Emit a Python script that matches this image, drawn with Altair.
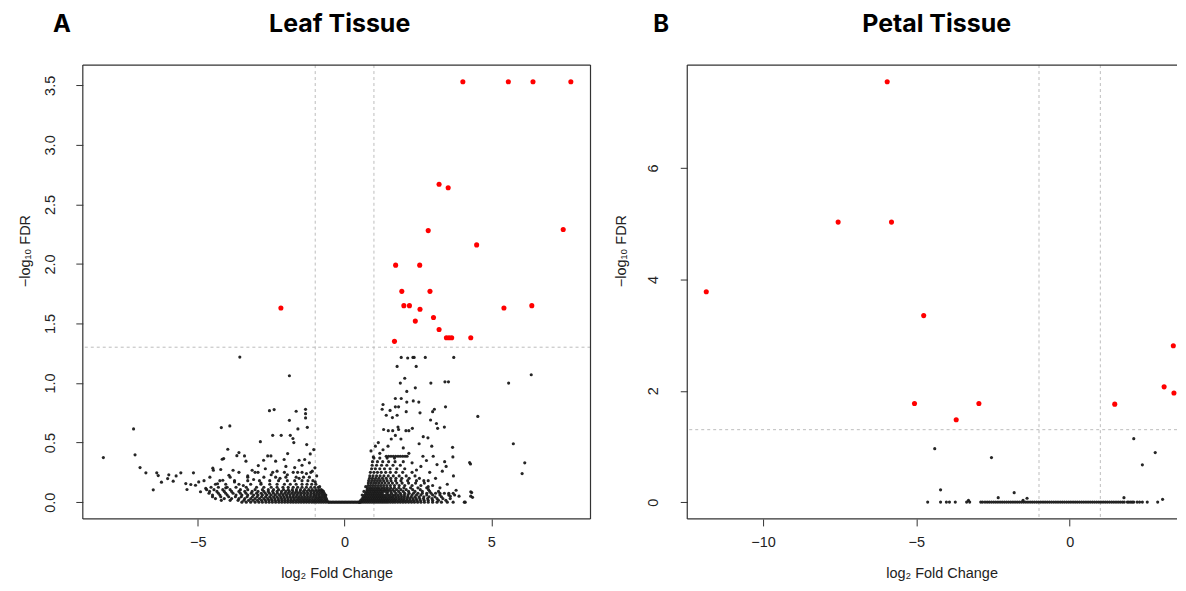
import altair as alt
import pandas as pd

# ---------------- Panel A: Leaf tissue ----------------
leaf_sig_x = [4.03, 5.58, 6.42, 7.71, 3.22, 3.53, 2.85, 7.45, 4.50, 1.74, 2.56, 1.95, 2.91, 2.02,
              2.21, -2.17, 2.57, 5.43, 6.38, 2.41, 3.03, 3.22, 3.47, 3.56, 3.65, 4.30, 1.70]
leaf_sig_y = [3.53, 3.53, 3.53, 3.53, 2.67, 2.64, 2.28, 2.29, 2.16, 1.99, 1.99, 1.77, 1.77, 1.65,
              1.65, 1.63, 1.62, 1.63, 1.65, 1.52, 1.55, 1.45, 1.38, 1.38, 1.38, 1.38, 1.35]

leaf_sparse = [
    (-8.22, 0.374), (-7.19, 0.615), (-7.14, 0.397), (-6.97, 0.29), (-6.77, 0.246), (-6.52, 0.103),
    (-6.40, 0.246), (-6.35, 0.223), (-6.24, 0.168), (-6.03, 0.198), (-5.99, 0.229), (-5.84, 0.176),
    (-5.74, 0.22), (-5.58, 0.246), (-5.41, 0.156), (-5.37, 0.106), (-5.24, 0.148), (-5.15, 0.246),
    (-5.08, 0.142), (-4.97, 0.17), (-4.91, 0.087), (-4.79, 0.18), (-4.73, 0.115), (-4.59, 0.21),
    (-4.49, 0.285), (-4.33, 0.154), (-4.22, 0.274), (-4.20, 0.626), (-4.17, 0.36), (-4.12, 0.366),
    (-3.98, 0.444), (-3.91, 0.64), (-3.67, 0.39), (-3.60, 0.416), (-3.57, 1.218), (-3.41, 0.388),
    (-3.36, 0.344), (-2.94, 0.307), (-2.87, 0.508), (-2.62, 0.388), (-2.51, 0.388), (-2.56, 0.768),
    (-2.40, 0.777), (-2.45, 0.561), (-2.16, 0.561), (-2.06, 0.358), (-1.88, 1.061), (-1.88, 0.687),
    (-1.85, 0.561), (-1.76, 0.534), (-1.73, 0.5), (-1.65, 0.763), (-1.59, 0.615), (-1.55, 0.352),
    (-1.36, 0.358), (-1.33, 0.779), (-1.33, 0.743), (-1.33, 0.707), (-1.29, 0.483), (-1.27, 0.628),
    (-1.17, 0.405), (-1.05, 0.441), (-1.01, 0.288), (-1.94, 0.408), (-2.35, 0.344), (-2.76, 0.352),
    (-3.15, 0.268), (-3.80, 0.268), (-3.94, 0.226), (-4.15, 0.184), (-4.47, 0.268),
    (-3.3, 0.22), (-3.05, 0.25), (-2.7, 0.28), (-2.3, 0.26), (-2.0, 0.3), (-1.7, 0.29), (-1.45, 0.31),
    (-1.2, 0.33), (-1.6, 0.25), (-2.5, 0.23), (-1.1, 0.26), (-0.95, 0.22), (-1.3, 0.24),
    (-4.05, 0.12), (-3.75, 0.17), (-3.45, 0.14), (-3.1, 0.19), (-2.85, 0.16), (-2.2, 0.2),
    (-1.95, 0.23), (-1.55, 0.2), (-1.0, 0.17), (-0.85, 0.13), (-0.76, 0.1),
    (1.93, 1.215), (2.15, 1.21), (2.33, 1.215), (2.37, 1.215), (2.75, 1.215), (3.72, 1.215),
    (1.79, 1.14), (2.44, 1.14), (2.05, 1.04), (1.90, 1.00), (2.94, 1.00), (3.42, 1.01), (3.54, 1.01),
    (2.41, 0.96), (2.12, 0.93), (5.59, 1.00), (6.36, 1.07), (1.73, 0.87), (1.93, 0.87), (1.73, 0.80),
    (1.84, 0.80), (2.34, 0.85), (2.53, 0.84), (2.12, 0.84), (1.31, 0.82), (1.28, 0.78), (1.55, 0.77),
    (1.42, 0.73), (1.79, 0.73), (2.10, 0.76), (2.57, 0.75), (3.00, 0.76), (3.06, 0.78), (3.44, 0.80),
    (4.54, 0.72), (1.63, 0.71), (2.93, 0.69), (3.13, 0.66), (3.17, 0.62), (3.40, 0.63), (1.33, 0.61),
    (1.49, 0.60), (1.64, 0.60), (1.82, 0.63), (1.84, 0.61), (2.09, 0.60), (2.19, 0.60), (2.31, 0.62),
    (1.73, 0.56), (1.92, 0.53), (2.54, 0.49), (2.68, 0.55), (2.84, 0.54), (2.97, 0.47), (3.68, 0.46),
    (3.69, 0.38), (4.29, 0.32), (5.75, 0.49), (6.14, 0.33), (6.05, 0.24), (3.41, 0.34), (3.71, 0.22),
    (4.33, 0.08), (4.36, 0.04), (4.11, 0.0), (1.31, 0.44), (1.48, 0.47), (1.59, 0.53), (2.0, 0.455),
    (2.19, 0.41), (2.67, 0.385), (2.79, 0.35), (3.02, 0.385), (3.15, 0.315), (3.33, 0.26),
    (3.46, 0.30), (3.7, 0.0), (4.08, 0.0), (4.26, 0.332), (4.30, 0.087), (4.30, 0.05), (2.6, 0.3),
    (2.9, 0.25), (2.3, 0.33), (3.1, 0.2), (2.7, 0.18), (3.5, 0.15), (3.8, 0.1), (3.9, 0.05),
    (0.9, 0.43), (1.05, 0.47), (1.15, 0.5), (1.2, 0.41), (0.98, 0.38), (2.45, 0.27), (2.85, 0.13),
    (3.25, 0.12), (3.6, 0.05), (0.6, 0.06), (0.66, 0.09), (0.72, 0.13),
]

leaf_left_rows_y = [0.0, 0.015, 0.03, 0.045, 0.06, 0.075, 0.09, 0.105, 0.125, 0.15, 0.18, 0.21,
                    0.25]
leaf_left_rows_x = [
    [-3.5, -3.35, -3.2, -3.05, -2.92, -2.8, -2.68, -2.57, -2.46, -2.35, -2.24, -2.14, -2.04, -1.94,
     -1.84, -1.75, -1.66, -1.57, -1.48, -1.39, -1.3, -1.21, -1.12, -1.04, -0.96, -0.88, -0.8, -0.72,
     -0.64, -0.56],
    [-4.2, -3.9, -3.63, -3.43, -3.27, -3.12, -2.97, -2.83, -2.7, -2.58, -2.47, -2.36, -2.25, -2.14,
     -2.04, -1.94, -1.84, -1.74, -1.64, -1.54, -1.44, -1.35, -1.26, -1.17, -1.08, -1.0, -0.92,
     -0.84, -0.76, -0.68, -0.6],
    [-4.4, -4.1, -3.85, -3.6, -3.4, -3.2, -3.05, -2.9, -2.75, -2.62, -2.5, -2.38, -2.26, -2.15,
     -2.04, -1.93, -1.82, -1.71, -1.6, -1.5, -1.4, -1.3, -1.2, -1.1, -1.0, -0.92, -0.84, -0.76,
     -0.68, -0.62],
    [-4.5, -4.22, -3.95, -3.72, -3.52, -3.32, -3.14, -2.98, -2.83, -2.69, -2.55, -2.42, -2.3, -2.18,
     -2.07, -1.96, -1.86, -1.76, -1.66, -1.56, -1.46, -1.36, -1.26, -1.16, -1.06, -0.97, -0.88,
     -0.8, -0.72, -0.65],
    [-4.5, -4.25, -4.0, -3.7, -3.5, -3.3, -3.1, -2.95, -2.8, -2.65, -2.5, -2.36, -2.22, -2.1, -1.98,
     -1.86, -1.74, -1.62, -1.5, -1.38, -1.27, -1.16, -1.05, -0.96, -0.87, -0.78, -0.7, -0.64],
    [-4.62, -4.3, -4.05, -3.8, -3.55, -3.36, -3.18, -3.0, -2.84, -2.7, -2.56, -2.42, -2.29, -2.16,
     -2.04, -1.92, -1.8, -1.69, -1.58, -1.47, -1.36, -1.25, -1.14, -1.04, -0.94, -0.85, -0.77,
     -0.69],
    [-4.6, -4.35, -4.1, -3.85, -3.6, -3.4, -3.15, -2.95, -2.75, -2.6, -2.45, -2.3, -2.15, -2.0,
     -1.88, -1.76, -1.64, -1.52, -1.4, -1.28, -1.16, -1.05, -0.95, -0.86, -0.78, -0.72],
    [-4.7, -4.45, -4.15, -3.9, -3.55, -3.3, -3.05, -2.8, -2.6, -2.42, -2.25, -2.08, -1.92, -1.78,
     -1.64, -1.5, -1.36, -1.22, -1.1, -0.98, -0.88, -0.8],
    [-4.55, -4.3, -4.0, -3.7, -3.35, -3.0, -2.75, -2.5, -2.3, -2.1, -1.92, -1.75, -1.6, -1.45, -1.3,
     -1.15, -1.02, -0.9],
    [-4.4, -4.05, -3.6, -3.2, -2.85, -2.55, -2.3, -2.05, -1.85, -1.65, -1.45, -1.28, -1.12, -0.98],
    [-4.25, -3.75, -3.3, -2.9, -2.55, -2.25, -1.95, -1.7, -1.45, -1.25, -1.08],
    [-3.9, -3.3, -2.75, -2.35, -2.0, -1.65, -1.4, -1.2],
    [-3.6, -2.95, -2.45, -2.05, -1.75, -1.45, -1.15],
]

leaf_center_zero_x = [-0.52, -0.47, -0.42, -0.37, -0.32, -0.27, -0.22, -0.17, -0.12, -0.07, -0.02,
                      0.03, 0.08, 0.13, 0.18, 0.23, 0.28, 0.33, 0.38, 0.43, 0.48, 0.53]

leaf_right_rows_y = [0.0, 0.015, 0.03, 0.045, 0.06, 0.075, 0.09, 0.105, 0.12, 0.14, 0.16, 0.18,
                     0.20, 0.22, 0.25, 0.28, 0.31, 0.34, 0.37, 0.385]
leaf_right_rows_x = [
    [0.5, 0.57, 0.64, 0.71, 0.78, 0.85, 0.92, 0.99, 1.06, 1.13, 1.2, 1.27, 1.34, 1.41, 1.48, 1.56,
     1.64, 1.72, 1.81, 1.9, 1.99, 2.08, 2.18, 2.28, 2.38, 2.49, 2.6, 2.72, 2.85, 3.0, 3.15, 3.3,
     3.5],
    [0.55, 0.62, 0.69, 0.76, 0.83, 0.9, 0.97, 1.04, 1.11, 1.18, 1.25, 1.32, 1.39, 1.46, 1.53, 1.61,
     1.69, 1.77, 1.86, 1.95, 2.04, 2.14, 2.24, 2.35, 2.46, 2.58, 2.71, 2.85, 3.0, 3.2, 3.45],
    [0.6, 0.67, 0.74, 0.81, 0.88, 0.95, 1.02, 1.09, 1.16, 1.23, 1.3, 1.37, 1.44, 1.51, 1.59, 1.67,
     1.75, 1.84, 1.93, 2.02, 2.12, 2.22, 2.33, 2.44, 2.56, 2.69, 2.83, 2.98, 3.15, 3.35, 3.6],
    [0.64, 0.71, 0.78, 0.85, 0.92, 0.99, 1.06, 1.13, 1.2, 1.27, 1.34, 1.42, 1.5, 1.58, 1.66, 1.75,
     1.84, 1.94, 2.04, 2.15, 2.27, 2.4, 2.54, 2.7, 2.88, 3.08, 3.3],
    [0.68, 0.75, 0.82, 0.89, 0.96, 1.03, 1.1, 1.17, 1.24, 1.31, 1.39, 1.47, 1.55, 1.64, 1.73, 1.83,
     1.93, 2.04, 2.16, 2.3, 2.45, 2.6, 2.8, 3.0, 3.25, 3.55, 3.75],
    [0.72, 0.8, 0.88, 0.96, 1.04, 1.12, 1.2, 1.28, 1.45, 1.6, 1.75, 1.9, 2.05, 2.2, 2.35, 2.5,
     2.65, 2.8, 2.95, 3.1, 3.25, 3.4, 3.55, 3.7],
    [0.75, 0.83, 0.91, 0.99, 1.07, 1.15, 1.23, 1.31, 1.39, 1.48, 1.58, 1.7, 1.84, 2.0, 2.18, 2.4,
     2.65, 2.9, 3.2],
    [0.77, 0.85, 0.93, 1.01, 1.09, 1.17, 1.25, 1.34, 1.43, 1.53, 1.64, 1.77, 1.92, 2.1, 2.32,
     2.58, 2.86],
    [0.78, 0.86, 0.94, 1.02, 1.1, 1.18, 1.27, 1.36, 1.46, 1.57, 1.7, 1.85, 2.02, 2.25, 2.5, 2.8],
    [0.8, 0.88, 0.96, 1.05, 1.14, 1.23, 1.33, 1.44, 1.56, 1.7, 1.86, 2.05, 2.3, 2.6, 3.0],
    [0.81, 0.9, 0.99, 1.08, 1.17, 1.27, 1.38, 1.5, 1.63, 1.78, 1.96, 2.18, 2.42, 2.72],
    [0.82, 0.92, 1.02, 1.12, 1.22, 1.33, 1.45, 1.58, 1.74, 1.92, 2.15, 2.45, 2.85],
    [0.85, 0.95, 1.06, 1.17, 1.29, 1.42, 1.57, 1.75, 1.95, 2.2, 2.55],
    [0.86, 0.97, 1.09, 1.21, 1.34, 1.49, 1.66, 1.86, 2.1, 2.4],
    [0.88, 1.0, 1.12, 1.25, 1.4, 1.56, 1.75, 1.98, 2.3],
    [0.92, 1.05, 1.2, 1.36, 1.55, 1.78, 2.05],
    [0.94, 1.09, 1.26, 1.44, 1.65, 1.9],
    [0.95, 1.12, 1.3, 1.5, 1.72, 2.0],
    [1.0, 1.2, 1.45, 1.7],
    [1.42, 1.5, 1.58, 1.66, 1.74, 1.82, 1.9, 1.98, 2.06, 2.13],
]

# ---------------- Panel B: Petal tissue ----------------
petal_sig_x = [-5.95, -7.55, -5.81, -11.85, -4.76, -5.06, -2.96, -3.70, 1.47, 3.08, 3.40, 3.38]
petal_sig_y = [7.55, 5.03, 5.03, 3.78, 3.35, 1.77, 1.77, 1.48, 1.76, 2.07, 1.96, 2.81]

petal_sparse = [
    (-4.40, 0.96), (-2.55, 0.80), (-4.21, 0.22), (-1.81, 0.17), (-2.33, 0.08), (-1.39, 0.07),
    (-1.52, 0.03), (2.09, 1.14), (2.79, 0.89), (2.37, 0.67), (1.77, 0.08), (3.03, 0.05),
    (-3.30, 0.03),
]
petal_zero_x = [
    -4.63, -4.21, -4.02, -3.92, -3.73, -3.36, -3.26, -2.90, -2.84,
    -2.76, -2.69, -2.62, -2.55, -2.48, -2.41, -2.34, -2.27, -2.2, -2.13, -2.06, -1.99, -1.92,
    -1.85, -1.78, -1.71, -1.64, -1.57, -1.5, -1.43, -1.36, -1.29, -1.22, -1.15, -1.08, -1.01,
    -0.94, -0.87, -0.8, -0.73, -0.66, -0.59, -0.52, -0.45, -0.38, -0.31, -0.24, -0.17, -0.1,
    -0.03, 0.04, 0.11, 0.18, 0.25, 0.32, 0.39, 0.46, 0.53, 0.6, 0.67, 0.74, 0.81, 0.88, 0.95,
    1.02, 1.09, 1.16, 1.23, 1.3, 1.37, 1.44, 1.51, 1.58, 1.65, 1.72, 1.78,
    1.88, 1.93, 1.99, 2.04, 2.09, 2.2, 2.28, 2.37, 2.53, 2.87,
]

LEAF_X_DOMAIN = [-8.92, 8.38]
LEAF_Y_DOMAIN = [-0.141, 3.67]
PETAL_X_DOMAIN = [-12.47, 3.50]
PETAL_Y_DOMAIN = [-0.302, 7.85]
FC_CUTS = [-1, 1]
FDR_CUT = [1.301]

LEAF_X_TICKS = [-5, 0, 5]
LEAF_Y_TICKS = [0, 0.5, 1.0, 1.5, 2.0, 2.5, 3.0, 3.5]
PETAL_X_TICKS = [-10, -5, 0]
PETAL_Y_TICKS = [0, 2, 4, 6]

H = 455
AXIS_FONT = "Liberation Sans"
HEAD_FONT = "Inter"
FS = 14.5


def ns_frame(sparse, rows_y=None, rows_x=None, zero_x=None):
    xs = [p[0] for p in sparse]
    ys = [p[1] for p in sparse]
    if rows_y is not None:
        for yv, row in zip(rows_y, rows_x):
            xs += row
            ys += [yv] * len(row)
    if zero_x is not None:
        xs += zero_x
        ys += [0.0] * len(zero_x)
    return pd.DataFrame({"x": xs, "y": ys})


def panel(ns_df, sig_df, xdom, ydom, xticks, yticks, yfmt, width, full_w, title, head_x, letter,
          letter_dx, ytitle_x, ylab_pad, right_border):
    xaxis = alt.Axis(values=xticks, format="d", title="log₂ Fold Change", grid=False, domain=False,
                     tickSize=7, tickColor="#333", tickWidth=1, labelPadding=10,
                     labelFont=AXIS_FONT, labelFontSize=FS, labelColor="#222",
                     titleFont=AXIS_FONT, titleFontSize=FS, titleFontWeight="normal",
                     titleColor="#222", titleX=full_w / 2, titleY=59, titleBaseline="alphabetic",
                     titleAnchor="middle", titleAlign="center")
    yaxis = alt.Axis(values=yticks, format=yfmt, title="−log₁₀ FDR", grid=False, domain=False,
                     tickSize=7, tickColor="#333", tickWidth=1, labelPadding=ylab_pad,
                     labelAngle=270, labelAlign="center", labelBaseline="alphabetic",
                     labelFont=AXIS_FONT, labelFontSize=FS, labelColor="#222",
                     titleFont=AXIS_FONT, titleFontSize=FS, titleFontWeight="normal",
                     titleColor="#222", titleAngle=270, titleX=ytitle_x, titleY=186,
                     titleBaseline="middle", titleAlign="center")
    X = alt.X("x:Q", scale=alt.Scale(domain=xdom, nice=False, zero=False), axis=xaxis)
    Y = alt.Y("y:Q", scale=alt.Scale(domain=ydom, nice=False, zero=False), axis=yaxis)

    vlines = alt.Chart(pd.DataFrame({"x": FC_CUTS})).mark_rule(
        color="#bdbdbd", strokeDash=[3, 3], strokeWidth=1).encode(x=X)
    hline = alt.Chart(pd.DataFrame({"y": FDR_CUT})).mark_rule(
        color="#bdbdbd", strokeDash=[3, 3], strokeWidth=1).encode(y=Y)
    ns = alt.Chart(ns_df).mark_circle(size=10, color="#1a1a1a", opacity=0.95).encode(x=X, y=Y)
    sig = alt.Chart(sig_df).mark_circle(size=26, color="#ff0000", opacity=1).encode(x=X, y=Y)

    one = pd.DataFrame({"d": [0]})
    fr = dict(color="#333", strokeWidth=1.2)
    top = alt.Chart(one).mark_rule(**fr).encode(x=alt.value(0), x2=alt.value(width), y=alt.value(0))
    bot = alt.Chart(one).mark_rule(**fr).encode(x=alt.value(0), x2=alt.value(width), y=alt.value(H))
    lef = alt.Chart(one).mark_rule(**fr).encode(x=alt.value(0), y=alt.value(0), y2=alt.value(H))
    layers = [vlines, hline, ns, sig, top, bot, lef]
    if right_border:
        rig = alt.Chart(one).mark_rule(**fr).encode(x=alt.value(width), y=alt.value(0), y2=alt.value(H))
        layers.append(rig)

    lab = alt.Chart(pd.DataFrame({"t": [letter]})).mark_text(
        font=HEAD_FONT, fontSize=24, fontWeight="bold", align="left", baseline="alphabetic",
        color="black").encode(x=alt.value(letter_dx), y=alt.value(-33.5), text="t:N")
    head = alt.Chart(pd.DataFrame({"t": [title]})).mark_text(
        font=HEAD_FONT, fontSize=25, fontWeight="bold", align="center", baseline="alphabetic",
        color="black").encode(x=alt.value(head_x), y=alt.value(-33.5), text="t:N")
    layers += [lab, head]

    return alt.layer(*layers).properties(width=width, height=H)


leaf_ns = ns_frame(leaf_sparse, leaf_left_rows_y, leaf_left_rows_x, leaf_center_zero_x)
leaf_ns = pd.concat([leaf_ns, ns_frame([], leaf_right_rows_y, leaf_right_rows_x)], ignore_index=True)
leaf_sig = pd.DataFrame({"x": leaf_sig_x, "y": leaf_sig_y})
petal_ns = ns_frame(petal_sparse, zero_x=petal_zero_x)
petal_sig = pd.DataFrame({"x": petal_sig_x, "y": petal_sig_y})

A = panel(leaf_ns, leaf_sig, LEAF_X_DOMAIN, LEAF_Y_DOMAIN, LEAF_X_TICKS, LEAF_Y_TICKS, ".1f",
          509, 509, "Leaf Tissue", 257.5, "A", -30, -57, 21, True)
B = panel(petal_ns, petal_sig, PETAL_X_DOMAIN, PETAL_Y_DOMAIN, PETAL_X_TICKS, PETAL_Y_TICKS, "d",
          491, 510, "Petal Tissue", 250, "B", -34, -66, 23, False)

chart = alt.hconcat(A, B, spacing=22).configure_view(stroke=None).properties(
    padding={"left": 10, "top": 2.5, "right": 0, "bottom": 1}
)

chart.save("out.html", embed_options={"renderer": "svg", "actions": False})
